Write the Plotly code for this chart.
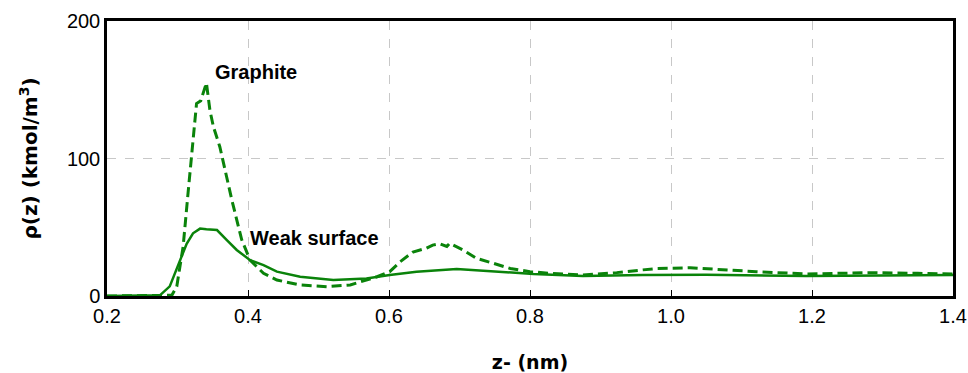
import plotly.graph_objects as go

graphite_z = [0.20, 0.25, 0.285, 0.292, 0.299, 0.308, 0.315, 0.322, 0.327, 0.333, 0.341, 0.346, 0.351, 0.360,
              0.377, 0.391, 0.403, 0.422, 0.441, 0.474, 0.512, 0.545, 0.583, 0.601, 0.616, 0.634,
              0.653, 0.662, 0.672, 0.682, 0.686, 0.705, 0.724, 0.748, 0.772, 0.800, 0.828, 0.875,
              0.923, 0.960, 0.980, 1.027, 1.074, 1.121, 1.192, 1.250, 1.287, 1.350, 1.400]
graphite_rho = [0, 0, 0, 0.5, 7, 36, 75, 116, 140, 142, 155, 135, 123, 108.6,
                70, 41, 26, 16.5, 11.6, 8, 6.8, 8, 14, 17.7, 25, 32,
                34.7, 37, 38, 36, 38.3, 33.5, 27.4, 23.8, 20, 17.7, 16.5, 15.3,
                17, 19, 20, 20.5, 19, 17.7, 16, 16.5, 17, 16.5, 16]

weak_z = [0.20, 0.27, 0.275, 0.289, 0.304, 0.313, 0.322, 0.332, 0.341, 0.356, 0.370, 0.384,
          0.403, 0.422, 0.441, 0.474, 0.521, 0.568, 0.601, 0.639, 0.696, 0.757, 0.805,
          0.875, 0.960, 1.050, 1.192, 1.300, 1.400]
weak_rho = [0, 0, 0.5, 7, 26, 38, 45.6, 49, 48.5, 48, 40.7, 33.5,
            26, 22.5, 17.7, 14, 11.6, 12.8, 15.3, 17.7, 19.6, 17.7, 16,
            14.5, 15.3, 15.5, 14.5, 15, 15.3]

x_ticks = [0.2, 0.4, 0.6, 0.8, 1.0, 1.2, 1.4]
y_ticks = [0, 100, 200]

green = "#0a830a"
font = "Liberation Sans, Arial, sans-serif"
title_font = "DejaVu Sans, Verdana, sans-serif"

fig = go.Figure()
fig.add_trace(go.Scatter(x=graphite_z, y=graphite_rho, mode="lines",
                         line=dict(color=green, width=3, dash="10px,5px"), name="Graphite"))
fig.add_trace(go.Scatter(x=weak_z, y=weak_rho, mode="lines",
                         line=dict(color=green, width=2.5), name="Weak surface"))

fig.add_annotation(x=0.411, y=163, text="<b>Graphite</b>", showarrow=False,
                   font=dict(family=font, size=20, color="black"))
fig.add_annotation(x=0.495, y=42, text="<b>Weak surface</b>", showarrow=False,
                   font=dict(family=font, size=20, color="black"))

fig.update_layout(
    width=968, height=373,
    margin=dict(l=107, r=15, t=21, b=77),
    paper_bgcolor="white", plot_bgcolor="white",
    showlegend=False,
    font=dict(family=font, size=20, color="black"),
)
fig.update_xaxes(range=[0.2, 1.4], tickvals=x_ticks, tickformat=".1f",
                 tickfont=dict(size=20), automargin=False,
                 showline=True, linecolor="black", linewidth=2.5, mirror=True,
                 showgrid=True, gridcolor="#c8c8c8", griddash="dash", gridwidth=1,
                 ticks="inside", ticklen=6, tickcolor="black", zeroline=False,
                 title=dict(text="<b>z- (nm)</b>", font=dict(family=title_font, size=19), standoff=30))
fig.update_yaxes(range=[0, 200], tickvals=y_ticks,
                 tickfont=dict(size=20), automargin=False,
                 showline=True, linecolor="black", linewidth=2.5, mirror=True,
                 showgrid=True, gridcolor="#c8c8c8", griddash="dash", gridwidth=1,
                 ticks="", zeroline=False,
                 title=dict(text="<b>ρ(z) (kmol/m<sup>3</sup>)</b>", font=dict(family=title_font, size=20), standoff=24))

fig.write_html("out.html")
